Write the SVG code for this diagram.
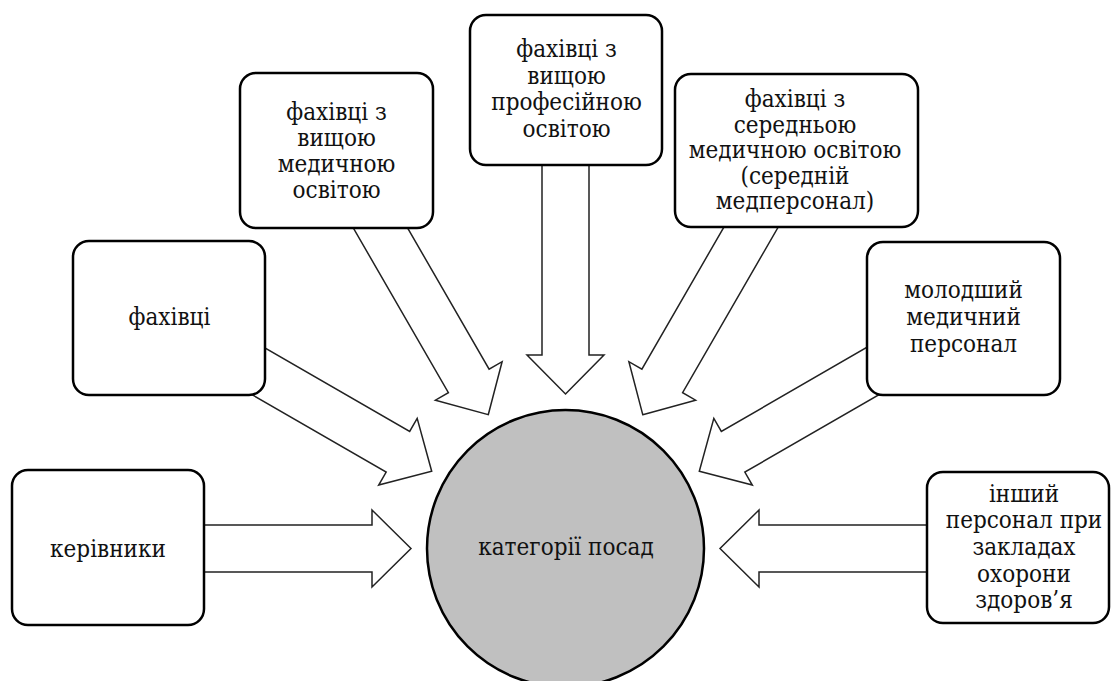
<svg xmlns="http://www.w3.org/2000/svg" width="1111" height="681" viewBox="0 0 1111 681">
<style>
.box{fill:#fff;stroke:#000;stroke-width:2.5}
.arr{fill:#fff;stroke:#222;stroke-width:1.5;stroke-linejoin:miter}
.hub{fill:#c0c0c0;stroke:#000;stroke-width:2.5}
.t{font-family:"DejaVu Serif",serif;font-stretch:condensed;font-size:24px;fill:#111;text-anchor:middle}
</style>
<defs>
<polygon id="arrow" points="-154.5,0 -193.5,-38.5 -193.5,-23.5 -400,-23.5 -400,23.5 -193.5,23.5 -193.5,38.5"/>
</defs>
<rect width="1111" height="681" fill="#fff"/>
<g id="connectors">
<use href="#arrow" class="arr" transform="translate(565.5,548.5) rotate(0)"/>
<use href="#arrow" class="arr" transform="translate(565.5,548.5) rotate(30)"/>
<use href="#arrow" class="arr" transform="translate(565.5,548.5) rotate(60)"/>
<use href="#arrow" class="arr" transform="translate(565.5,548.5) rotate(90)"/>
<use href="#arrow" class="arr" transform="translate(565.5,548.5) rotate(120)"/>
<use href="#arrow" class="arr" transform="translate(565.5,548.5) rotate(150)"/>
<use href="#arrow" class="arr" transform="translate(565.5,548.5) rotate(180)"/>
</g>
<g id="hub">
<circle class="hub" cx="565.5" cy="548.5" r="138.5"/>
<text class="t" x="566" y="555">категорії посад</text>
</g>
<g id="kerivnyky">
<rect class="box" x="12" y="470" width="192" height="155" rx="16"/>
<text class="t" x="108" y="557">керівники</text>
</g>
<g id="fakhivtsi">
<rect class="box" x="73" y="241" width="192" height="154" rx="16"/>
<text class="t" x="169.5" y="325">фахівці</text>
</g>
<g id="vyshcha-medychna">
<rect class="box" x="240" y="73" width="193" height="155" rx="16"/>
<text class="t" x="336.5" y="120">фахівці з</text>
<text class="t" x="336.5" y="146">вищою</text>
<text class="t" x="336.5" y="172">медичною</text>
<text class="t" x="336.5" y="198">освітою</text>
</g>
<g id="vyshcha-profesiina">
<rect class="box" x="470" y="15" width="192" height="150" rx="16"/>
<text class="t" x="566.5" y="57">фахівці з</text>
<text class="t" x="566.5" y="83.5">вищою</text>
<text class="t" x="566.5" y="110">професійною</text>
<text class="t" x="566.5" y="136.5">освітою</text>
</g>
<g id="serednia-medychna">
<rect class="box" x="675" y="74" width="243" height="153" rx="16"/>
<text class="t" x="795" y="107">фахівці з</text>
<text class="t" x="795" y="132.5">середньою</text>
<text class="t" x="795" y="158">медичною освітою</text>
<text class="t" x="795" y="183.5">(середній</text>
<text class="t" x="795" y="209">медперсонал)</text>
</g>
<g id="molodshyi">
<rect class="box" x="867" y="242" width="193" height="153" rx="16"/>
<text class="t" x="963.5" y="298">молодший</text>
<text class="t" x="963.5" y="325">медичний</text>
<text class="t" x="963.5" y="352">персонал</text>
</g>
<g id="inshyi">
<rect class="box" x="927" y="472" width="182" height="151" rx="16"/>
<text class="t" x="1024" y="502">інший</text>
<text class="t" x="1024" y="528">персонал при</text>
<text class="t" x="1024" y="555">закладах</text>
<text class="t" x="1024" y="582">охорони</text>
<text class="t" x="1024" y="608">здоров’я</text>
</g>
</svg>
